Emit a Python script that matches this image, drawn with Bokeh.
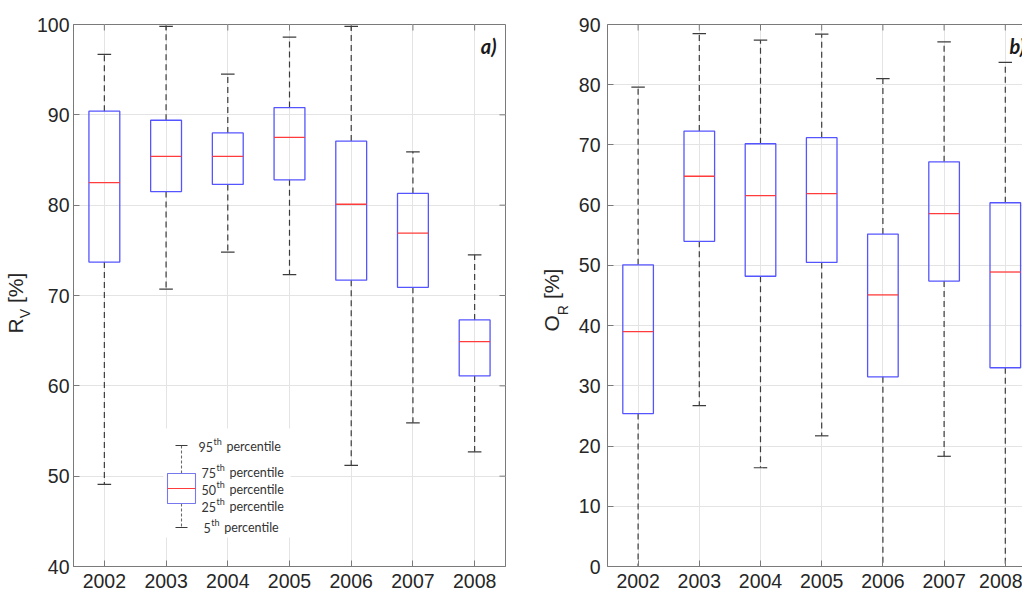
import numpy as np
from bokeh.plotting import figure
from bokeh.layouts import row
from bokeh.models import Range1d, LinearAxis, FixedTicker
from bokeh.core.properties import value
from bokeh.embed import file_html
from bokeh.resources import INLINE

# ---------------- data ----------------
years = [2002, 2003, 2004, 2005, 2006, 2007, 2008]

# panel a) R_V [%]
rv_p95 = [96.7, 99.8, 94.5, 98.6, 99.8, 85.9, 74.5]
rv_q3 = [90.4, 89.4, 88.0, 90.8, 87.1, 81.3, 67.3]
rv_med = [82.5, 85.4, 85.4, 87.5, 80.1, 76.9, 64.9]
rv_q1 = [73.7, 81.5, 82.3, 82.8, 71.7, 70.9, 61.1]
rv_p5 = [49.1, 70.7, 74.8, 72.3, 51.2, 55.9, 52.7]
rv_ticks = [40, 50, 60, 70, 80, 90, 100]

# panel b) O_R [%]
or_p95 = [79.6, 88.5, 87.4, 88.4, 81.0, 87.1, 83.7]
or_q3 = [50.1, 72.3, 70.2, 71.2, 55.2, 67.2, 60.4]
or_med = [39.0, 64.8, 61.6, 61.9, 45.1, 58.6, 48.9]
or_q1 = [25.4, 54.0, 48.2, 50.5, 31.5, 47.4, 33.0]
or_p5 = [0.0, 26.7, 16.4, 21.7, 0.0, 18.3, 0.0]
or_ticks = [0, 10, 20, 30, 40, 50, 60, 70, 80, 90]

legend_numbers = ["95", "75", "50", "25", "5"]
legend_word = "percentile"
legend_sup = "th"

# ---------------- style / geometry ----------------
FRAME = "#7a7a7a"
GRID = "#e4e4e4"
BOXC = "#5555ff"
MEDC = "#ff3b3b"
WHC = "#3c3c3c"
TXT = "#262626"
TICKFONT = "Liberation Sans"
TICKSIZE = "19.5px"
WIN_H = 595
TICK_LEN = 6
FY0 = 24          # frame top (window px) shared by all figures of the row
FH = 542          # frame height shared by all figures of the row
FB = WIN_H - FY0 - FH


def make_panel(p95, q3, med, q1, p5, yr, yticks, fx0, fw, x_end,
               fig_x0, border_right, outline, ystandoff):
    p = figure(x_range=Range1d(2001.5, x_end), y_range=Range1d(*yr),
               frame_width=fw, frame_height=FH,
               min_border_left=fx0 - fig_x0, min_border_right=border_right,
               min_border_top=FY0, min_border_bottom=FB,
               output_backend="svg", toolbar_location=None,
               background_fill_color="white", border_fill_color="white")
    p.outline_line_color = FRAME if outline else None
    p.xaxis.ticker = FixedTicker(ticks=years)
    p.yaxis.ticker = FixedTicker(ticks=yticks)
    p.xgrid.ticker = FixedTicker(ticks=years)
    p.ygrid.ticker = FixedTicker(ticks=yticks)
    for g in (p.xgrid[0], p.ygrid[0]):
        g.grid_line_color = GRID
        g.grid_line_width = 1
    for ax in (p.xaxis[0], p.yaxis[0]):
        ax.axis_line_color = FRAME
        ax.major_tick_line_color = FRAME
        ax.major_tick_in = TICK_LEN
        ax.major_tick_out = 0
        ax.minor_tick_line_color = None
        ax.major_label_text_font = TICKFONT
        ax.major_label_text_font_size = TICKSIZE
        ax.major_label_text_color = TXT
    p.xaxis.major_label_standoff = 7
    p.yaxis.major_label_standoff = ystandoff

    if not outline:
        top = LinearAxis(ticker=FixedTicker(ticks=[]))
        top.axis_line_color = FRAME
        top.major_tick_line_color = None
        top.minor_tick_line_color = None
        p.add_layout(top, "above")

    def X(px):
        return 2001.5 + (px - fx0) / fw * (x_end - 2001.5)

    def Y(py):
        return yr[1] - (py - FY0) / FH * (yr[1] - yr[0])

    dx = (x_end - 2001.5) / fw
    dy = (yr[1] - yr[0]) / FH

    xs = np.array(years, dtype=float)
    # inward ticks on the top edge (and right edge when the frame is complete)
    p.segment(x0=xs, y0=[yr[1]] * len(xs), x1=xs,
              y1=[yr[1] - TICK_LEN * dy] * len(xs), line_color=FRAME)
    if outline:
        p.segment(x0=[x_end] * len(yticks), y0=yticks,
                  x1=[x_end - TICK_LEN * dx] * len(yticks), y1=yticks,
                  line_color=FRAME)

    # whiskers
    p.segment(x0=xs, y0=q3, x1=xs, y1=p95, line_color=WHC, line_width=1.2,
              line_dash="6 4")
    p.segment(x0=xs, y0=q1, x1=xs, y1=p5, line_color=WHC, line_width=1.2,
              line_dash="6 4")
    # caps
    p.segment(x0=xs - 0.11, y0=p95, x1=xs + 0.11, y1=p95, line_color=WHC,
              line_width=1.2)
    p.segment(x0=xs - 0.11, y0=p5, x1=xs + 0.11, y1=p5, line_color=WHC,
              line_width=1.2)
    # boxes
    p.quad(left=xs - 0.25, right=xs + 0.25, top=q3, bottom=q1,
           fill_color=None, line_color=BOXC, line_width=1.3)
    # medians
    p.segment(x0=xs - 0.25, y0=med, x1=xs + 0.25, y1=med, line_color=MEDC,
              line_width=1.3)
    return p, X, Y


def label_fig(width, main, sub, cx, sub_cx, y_start):
    """Narrow figure that only carries the rotated y-axis title with a subscript.
    Its frame is aligned with the panels' frames; y data = -(window row)."""
    f = figure(x_range=Range1d(0, width), y_range=Range1d(-(FY0 + FH), -FY0),
               frame_width=width, frame_height=FH,
               min_border_left=0, min_border_right=0, min_border_top=FY0,
               min_border_bottom=FB, x_axis_location=None,
               y_axis_location=None, output_backend="svg",
               toolbar_location=None, background_fill_color="white",
               border_fill_color="white")
    f.outline_line_color = None
    f.grid.visible = False
    f_main, f_sub = 21, 14
    adv = {"R": 0.722, "O": 0.778, "V": 0.667}
    w_main = adv.get(main, 0.72) * f_main
    w_sub = adv.get(sub, 0.7) * f_sub
    common = dict(angle=np.pi / 2, text_align="left", text_baseline="middle",
                  text_font=value(TICKFONT), text_color=TXT)
    f.text(x=[cx], y=[-y_start], text=[main],
           text_font_size=f"{f_main}px", **common)
    f.text(x=[sub_cx], y=[-(y_start - w_main)], text=[sub],
           text_font_size=f"{f_sub}px", **common)
    f.text(x=[cx], y=[-(y_start - w_main - w_sub - 6)], text=["[%]"],
           text_font_size=f"{f_main}px", **common)
    return f


# ---------------- panel a ----------------
LAB1_W = 31
L_FX0, L_FW = 73, 432
p1, X1, Y1 = make_panel(rv_p95, rv_q3, rv_med, rv_q1, rv_p5, (40, 100), rv_ticks,
                        L_FX0, L_FW, 2008.5, LAB1_W, 35, True, 4)
lab1 = label_fig(LAB1_W, "R", "V", 15, 24, 333)

# ---------------- panel b ----------------
LAB2_W = 35
R_FX0, R_FW = 607, 415
R_UNIT = 61.2
r_xend = 2001.5 + R_FW / R_UNIT
p2, X2, Y2 = make_panel(or_p95, or_q3, or_med, or_q1, or_p5, (0, 90), or_ticks,
                        R_FX0, R_FW, r_xend, 540 + LAB2_W, 0, False, 7)
lab2 = label_fig(LAB2_W, "O", "R", 11, 22, 331)

# ---------------- panel letters ----------------
p1.text(x=[X1(496)], y=[Y1(45)], text=["a)"], text_align="right",
        text_baseline="middle", text_font=value("Lato"),
        text_font_style="bold italic", text_font_size="20px",
        text_color="#1a1a1a")
p2.text(x=[X2(1009)], y=[Y2(45)], text=["b)"], text_align="left",
        text_baseline="middle", text_font=value("Lato"),
        text_font_style="bold italic", text_font_size="20px",
        text_color="#1a1a1a")

# ---------------- inset legend (panel a) ----------------
p1.quad(left=[X1(163)], right=[X1(290)], top=[Y1(428)], bottom=[Y1(537)],
        fill_color="white", line_color=None)
lx = X1(181)
p1.segment(x0=[lx, lx], y0=[Y1(473), Y1(503)], x1=[lx, lx],
           y1=[Y1(445), Y1(527)], line_color="#6a6a6a", line_width=1.1,
           line_dash="3 2")
p1.segment(x0=[X1(175), X1(175)], y0=[Y1(445), Y1(527)],
           x1=[X1(187), X1(187)], y1=[Y1(445), Y1(527)],
           line_color="#3c3c3c", line_width=1.2)
p1.quad(left=[X1(167)], right=[X1(195)], top=[Y1(473)], bottom=[Y1(503)],
        fill_color=None, line_color="#7777ee", line_width=1.1)
p1.segment(x0=[X1(167)], y0=[Y1(488)], x1=[X1(195)], y1=[Y1(488)],
           line_color=MEDC, line_width=1.1)

leg_py = [446, 472, 489, 506, 527]
leg_px = [198, 201, 201, 201, 203]
num_x, num_y, sup_x, sup_y, word_x = [], [], [], [], []
for n, px, py in zip(legend_numbers, leg_px, leg_py):
    sx = px + len(n) * 7.2 + 0.5
    num_x.append(X1(px)); num_y.append(Y1(py))
    sup_x.append(X1(sx)); sup_y.append(Y1(py - 5))
    word_x.append(X1(sx + 13))
p1.text(x=num_x, y=num_y, text=legend_numbers, text_align="left",
        text_baseline="middle", text_font=value("Lato"),
        text_font_size="12.5px", text_color="#333333")
p1.text(x=sup_x, y=sup_y, text=[legend_sup] * len(legend_numbers),
        text_align="left", text_baseline="middle", text_font=value("Lato"),
        text_font_size="9px", text_color="#333333")
p1.text(x=word_x, y=num_y, text=[legend_word] * len(legend_numbers),
        text_align="left", text_baseline="middle", text_font=value("Lato"),
        text_font_size="12.5px", text_color="#333333")

layout = row(lab1, p1, lab2, p2, spacing=0)
open("out.html", "w").write(file_html(layout, INLINE))
